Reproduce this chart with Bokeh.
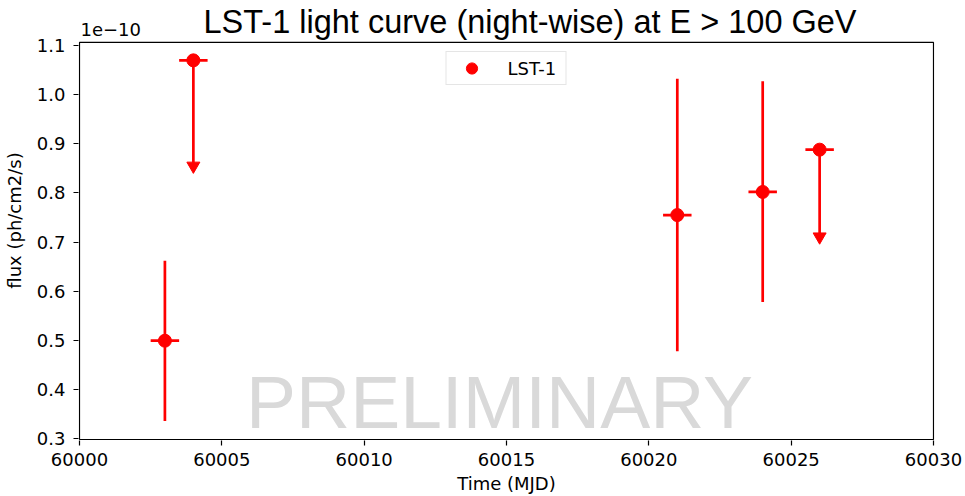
from bokeh.plotting import figure
from bokeh.models import (ColumnDataSource, Range1d, FixedTicker, PrintfTickFormatter,
                          Label, Legend, LegendItem, BoxAnnotation)
from bokeh.embed import file_html
from bokeh.resources import INLINE

# ---- data (flux in units of 1e-10 ph/cm2/s) ----
time = [60003, 60004, 60021, 60024, 60026]
time_err = [0.5, 0.5, 0.5, 0.5, 0.5]
flux = [0.4995, 1.0696, 0.755, 0.802, 0.888]
flux_lo = [0.336, 0.855, 0.478, 0.578, 0.711]
flux_hi = [0.662, 1.0696, 1.032, 1.027, 0.888]
upper_limit = [False, True, False, False, True]

x_ticks = [60000, 60005, 60010, 60015, 60020, 60025, 60030]
y_ticks = [0.3, 0.4, 0.5, 0.6, 0.7, 0.8, 0.9, 1.0, 1.1]
x_lim = (60000, 60030)
y_lim = (0.2986, 1.1061)

title_text = "LST-1 light curve (night-wise) at E > 100 GeV"
x_label = "Time (MJD)"
y_label = "flux (ph/cm2/s)"
offset_text = "1e\u221210"
watermark = "PRELIMINARY"
series_name = "LST-1"

RED = "#ff0000"
TICK_FONT = "DejaVu Sans"
PX_X = 1 / 28.467   # data units per pixel (x)
PX_Y = 1 / 492.9    # data units per pixel (y)
TOP_PAD = 42        # pixels above the axes box (title area)

x_start = x_lim[0] - PX_X
y_end = y_lim[1] + TOP_PAD * PX_Y


def x_at(px):
    """data x for a canvas pixel column (frame starts at 78 px)"""
    return x_start + (px - 78) * PX_X


def y_at(px):
    """data y for a canvas pixel row (frame starts at 0 px)"""
    return y_end - px * PX_Y


# frame covers the whole top area so that the title/offset labels are not clipped;
# the visible axes box is drawn by a BoxAnnotation at the axis limits.
p = figure(width=965, height=496, output_backend="svg", toolbar_location=None,
           x_range=Range1d(x_start, x_lim[1] + PX_X),
           y_range=Range1d(y_lim[0] - PX_Y, y_end),
           min_border_left=78, min_border_right=31, min_border_top=0,
           min_border_bottom=55)
p.background_fill_color = "white"
p.border_fill_color = "white"
p.xgrid.visible = False
p.ygrid.visible = False
p.outline_line_color = None

# watermark (text middle = baseline - 0.346 em)
p.add_layout(Label(x=x_at(499), y=y_at(428.3 - 0.346 * 75), text=watermark,
                   text_align="center", text_baseline="middle",
                   text_font="Liberation Sans", text_font_size="75px",
                   text_color="#d9d9d9"))

# axes box (spines)
p.add_layout(BoxAnnotation(left=x_lim[0], right=x_lim[1], bottom=y_lim[0], top=y_lim[1],
                           fill_alpha=0, line_color="black", line_alpha=1.0,
                           line_width=1.2))

# error bars
v_src = ColumnDataSource(dict(x=time, y0=flux_lo, y1=flux_hi))
p.segment(x0="x", y0="y0", x1="x", y1="y1", source=v_src,
          line_color=RED, line_width=2.7)
h_src = ColumnDataSource(dict(x0=[t - e for t, e in zip(time, time_err)],
                              x1=[t + e for t, e in zip(time, time_err)],
                              y=flux))
p.segment(x0="x0", y0="y", x1="x1", y1="y", source=h_src,
          line_color=RED, line_width=2.7)

# upper-limit arrows
ul_src = ColumnDataSource(dict(x=[t for t, u in zip(time, upper_limit) if u],
                               y=[l for l, u in zip(flux_lo, upper_limit) if u]))
p.scatter(x="x", y="y", source=ul_src, marker="inverted_triangle", size=13,
          fill_color=RED, line_color=RED)

# points
pt_src = ColumnDataSource(dict(x=time, y=flux))
pts = p.scatter(x="x", y="y", source=pt_src, marker="circle", size=13,
                fill_color=RED, line_color=RED)

# axes
for ax in (p.xaxis[0], p.yaxis[0]):
    ax.axis_line_color = None
    ax.major_tick_line_color = "black"
    ax.major_tick_line_width = 1.2
    ax.major_tick_out = 5
    ax.major_tick_in = 0
    ax.minor_tick_out = 0
    ax.minor_tick_in = 0
    ax.major_label_text_font = TICK_FONT
    ax.major_label_text_font_size = "18px"
    ax.major_label_text_color = "black"
    ax.axis_label_text_font = TICK_FONT
    ax.axis_label_text_font_size = "18px"
    ax.axis_label_text_font_style = "normal"
    ax.axis_label_text_color = "black"

p.xaxis[0].ticker = FixedTicker(ticks=x_ticks)
p.xaxis[0].formatter = PrintfTickFormatter(format="%d")
p.xaxis[0].axis_label = x_label
p.xaxis[0].major_label_standoff = 7
p.xaxis[0].axis_label_standoff = 4

p.yaxis[0].ticker = FixedTicker(ticks=y_ticks)
p.yaxis[0].formatter = PrintfTickFormatter(format="%.1f")
p.yaxis[0].axis_label = y_label
p.yaxis[0].major_label_standoff = 8
p.yaxis[0].axis_label_standoff = 9

# offset text and title
p.add_layout(Label(x=x_at(80), y=y_at(35.7 - 0.346 * 18), text=offset_text,
                   text_align="left", text_baseline="middle", text_font=TICK_FONT,
                   text_font_size="18px", text_color="black"))
p.add_layout(Label(x=x_at(203), y=y_at(32.3 - 0.346 * 32.5), text=title_text,
                   text_align="left", text_baseline="middle",
                   text_font="Liberation Sans", text_font_size="32.5px",
                   text_color="black"))

legend = Legend(items=[LegendItem(label=series_name, renderers=[pts])],
                location="top_center", margin=51, padding=2,
                glyph_width=46, glyph_height=28, label_height=28,
                label_width=56, label_standoff=13,
                label_text_font=TICK_FONT, label_text_font_size="18px",
                label_text_color="black",
                border_line_color="#cccccc", border_line_width=1,
                background_fill_alpha=0.8)
p.add_layout(legend)

open("out.html", "w").write(file_html(p, INLINE))
